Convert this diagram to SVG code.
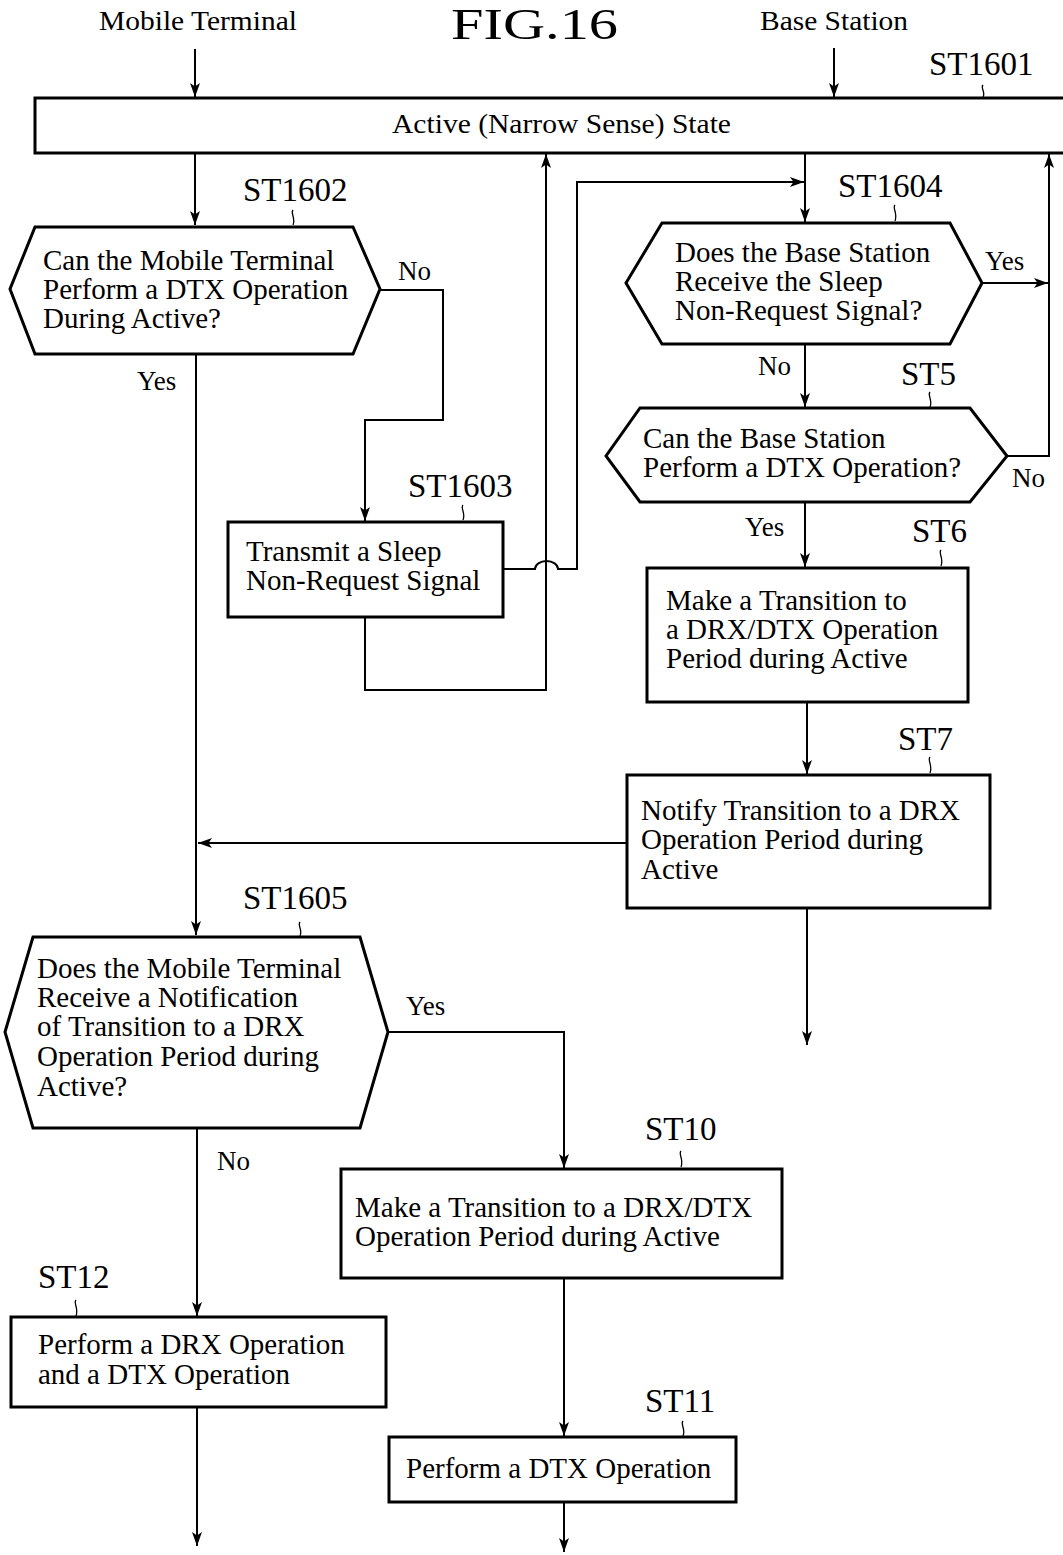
<svg xmlns="http://www.w3.org/2000/svg" width="1063" height="1555" viewBox="0 0 1063 1555">
<style>
text{font-family:"Liberation Serif","Times New Roman",serif;fill:#000}
.t{font-size:29px}
.h{font-size:28px}
.yn{font-size:27px}
.lb{font-size:33px}
.ttl{font-size:45px}
.box{fill:#fff;stroke:#000;stroke-width:3}
.c{fill:none;stroke:#000;stroke-width:2}
.tl{fill:none;stroke:#000;stroke-width:1.3}
</style>
<defs>
<marker id="ar" markerUnits="userSpaceOnUse" markerWidth="16" markerHeight="12" refX="14" refY="6" orient="auto">
<path d="M0,1 L14,6 L0,11 L3.5,6 z" fill="#000"/>
</marker>
</defs>
<rect width="1063" height="1555" fill="#fff"/>

<g id="headers">
<text class="ttl" x="451" y="39" textLength="167" lengthAdjust="spacingAndGlyphs">FIG.16</text>
<text class="h" x="99" y="30" textLength="198" lengthAdjust="spacingAndGlyphs">Mobile Terminal</text>
<text class="h" x="760" y="30" textLength="148" lengthAdjust="spacingAndGlyphs">Base Station</text>
</g>

<g id="connectors">
<path class="c" d="M195,49 V97" marker-end="url(#ar)"/>
<path class="c" d="M834,48 V97" marker-end="url(#ar)"/>
<path class="c" d="M195,153 V225" marker-end="url(#ar)"/>
<path class="c" d="M380,290 H443 V420 H365 V521" marker-end="url(#ar)"/>
<path class="c" d="M196,354 V935" marker-end="url(#ar)"/>
<path class="c" d="M365,617 V690 H546 V154" marker-end="url(#ar)"/>
<path class="c" d="M503,569 H535 a11.5,8 0 0 1 23,0 H577 V182 H804" marker-end="url(#ar)"/>
<path class="c" d="M805,153 V222" marker-end="url(#ar)"/>
<path class="c" d="M982,283 H1048" marker-end="url(#ar)"/>
<path class="c" d="M1007,456 H1049 V154" marker-end="url(#ar)"/>
<path class="c" d="M805,344 V407" marker-end="url(#ar)"/>
<path class="c" d="M805,502 V567" marker-end="url(#ar)"/>
<path class="c" d="M807,702 V774" marker-end="url(#ar)"/>
<path class="c" d="M627,843 H198" marker-end="url(#ar)"/>
<path class="c" d="M807,908 V1045" marker-end="url(#ar)"/>
<path class="c" d="M388,1032 H564 V1168" marker-end="url(#ar)"/>
<path class="c" d="M197,1128 V1316" marker-end="url(#ar)"/>
<path class="c" d="M564,1278 V1436" marker-end="url(#ar)"/>
<path class="c" d="M197,1407 V1546" marker-end="url(#ar)"/>
<path class="c" d="M564,1502 V1552" marker-end="url(#ar)"/>
<text class="yn" x="398" y="280">No</text>
<text class="yn" x="137" y="390">Yes</text>
<text class="yn" x="985" y="270">Yes</text>
<text class="yn" x="758" y="375">No</text>
<text class="yn" x="1012" y="487">No</text>
<text class="yn" x="745" y="536">Yes</text>
<text class="yn" x="406" y="1015">Yes</text>
<text class="yn" x="217" y="1170">No</text>
</g>

<g id="st1601">
<rect class="box" x="35" y="98" width="1040" height="55"/>
<text class="h" x="392" y="133" textLength="339" lengthAdjust="spacingAndGlyphs">Active (Narrow Sense) State</text>
<text class="lb" x="929" y="75">ST1601</text>
<path class="tl" d="M983,85 c-3,3 3,7 0,12"/>
</g>

<g id="st1602">
<path class="box" d="M35,227 H353 L380,289 L353,354 H35 L10,289 Z"/>
<text class="t" x="43" y="270">Can the Mobile Terminal</text>
<text class="t" x="43" y="299">Perform a DTX Operation</text>
<text class="t" x="43" y="328">During Active?</text>
<text class="lb" x="243" y="201">ST1602</text>
<path class="tl" d="M293,210 c-3,3 3,8 0,15"/>
</g>

<g id="st1603">
<rect class="box" x="228" y="522" width="275" height="95"/>
<text class="t" x="246" y="561">Transmit a Sleep</text>
<text class="t" x="246" y="590">Non-Request Signal</text>
<text class="lb" x="408" y="497">ST1603</text>
<path class="tl" d="M463,505 c-3,3 3,8 0,15"/>
</g>

<g id="st1604">
<path class="box" d="M662,223 H950 L982,283 L950,344 H662 L626,283 Z"/>
<text class="t" x="675" y="262">Does the Base Station</text>
<text class="t" x="675" y="291">Receive the Sleep</text>
<text class="t" x="675" y="320">Non-Request Signal?</text>
<text class="lb" x="838" y="197">ST1604</text>
<path class="tl" d="M895,205 c-3,3 3,8 0,16"/>
</g>

<g id="st5">
<path class="box" d="M640,408 H970 L1007,456 L970,502 H640 L606,456 Z"/>
<text class="t" x="643" y="448">Can the Base Station</text>
<text class="t" x="643" y="477">Perform a DTX Operation?</text>
<text class="lb" x="901" y="385">ST5</text>
<path class="tl" d="M930,392 c-3,3 3,8 0,15"/>
</g>

<g id="st6">
<rect class="box" x="647" y="568" width="321" height="134"/>
<text class="t" x="666" y="610">Make a Transition to</text>
<text class="t" x="666" y="639">a DRX/DTX Operation</text>
<text class="t" x="666" y="668">Period during Active</text>
<text class="lb" x="912" y="542">ST6</text>
<path class="tl" d="M941,550 c-3,3 3,8 0,16"/>
</g>

<g id="st7">
<rect class="box" x="627" y="775" width="363" height="133"/>
<text class="t" x="641" y="820">Notify Transition to a DRX</text>
<text class="t" x="641" y="849">Operation Period during</text>
<text class="t" x="641" y="879">Active</text>
<text class="lb" x="898" y="750">ST7</text>
<path class="tl" d="M930,757 c-3,3 3,8 0,16"/>
</g>

<g id="st1605">
<path class="box" d="M33,937 H360 L388,1032 L360,1128 H33 L5,1032 Z"/>
<text class="t" x="37" y="978">Does the Mobile Terminal</text>
<text class="t" x="37" y="1007">Receive a Notification</text>
<text class="t" x="37" y="1036">of Transition to a DRX</text>
<text class="t" x="37" y="1066">Operation Period during</text>
<text class="t" x="37" y="1096">Active?</text>
<text class="lb" x="243" y="909">ST1605</text>
<path class="tl" d="M300,922 c-3,3 3,8 0,14"/>
</g>

<g id="st10">
<rect class="box" x="341" y="1169" width="441" height="109"/>
<text class="t" x="355" y="1217">Make a Transition to a DRX/DTX</text>
<text class="t" x="355" y="1246">Operation Period during Active</text>
<text class="lb" x="645" y="1140">ST10</text>
<path class="tl" d="M681,1151 c-3,3 3,8 0,16"/>
</g>

<g id="st12">
<rect class="box" x="11" y="1317" width="375" height="90"/>
<text class="t" x="38" y="1354">Perform a DRX Operation</text>
<text class="t" x="38" y="1384">and a DTX Operation</text>
<text class="lb" x="38" y="1288">ST12</text>
<path class="tl" d="M76,1300 c-3,3 3,8 0,16"/>
</g>

<g id="st11">
<rect class="box" x="389" y="1437" width="347" height="65"/>
<text class="t" x="406" y="1478">Perform a DTX Operation</text>
<text class="lb" x="645" y="1412">ST11</text>
<path class="tl" d="M683,1421 c-3,3 3,8 0,15"/>
</g>
</svg>
